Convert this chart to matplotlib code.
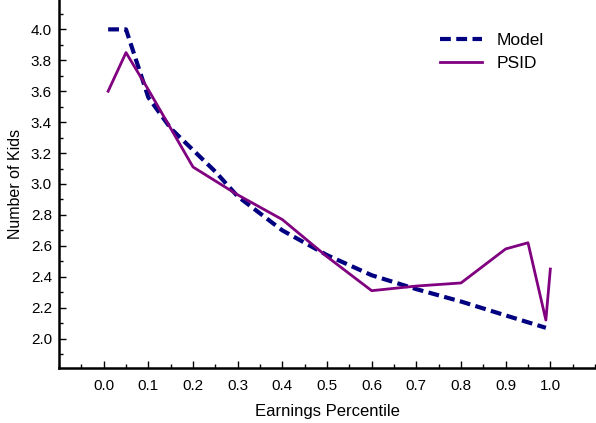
import numpy as np
import matplotlib.pyplot as plt
from matplotlib.ticker import MultipleLocator

# Data
model_x = [0.01, 0.05, 0.1, 0.15, 0.2, 0.25, 0.3, 0.4, 0.5, 0.6, 0.7, 0.8, 0.9, 0.99]
model_y = [4.0, 4.0, 3.56, 3.36, 3.22, 3.08, 2.92, 2.70, 2.54, 2.41, 2.32, 2.24, 2.15, 2.07]
psid_x = [0.01, 0.05, 0.1, 0.2, 0.3, 0.4, 0.5, 0.6, 0.7, 0.8, 0.9, 0.95, 0.99, 1.0]
psid_y = [3.60, 3.85, 3.61, 3.11, 2.93, 2.77, 2.53, 2.31, 2.34, 2.36, 2.58, 2.62, 2.12, 2.45]
xticks = np.arange(0, 1.01, 0.1)
yticks = np.arange(2.0, 4.01, 0.2)

plt.rcParams['font.family'] = ['Liberation Sans', 'DejaVu Sans']

fig = plt.figure(figsize=(5.96, 4.23), dpi=100)
ax = fig.add_axes([59 / 596, 55 / 423, 536 / 596, 368 / 423])

ax.plot(model_x, model_y, color='#000080', lw=3.0, ls=(0, (2.6, 1.3)), label='Model')
ax.plot(psid_x, psid_y, color='#800080', lw=2.0, label='PSID')

ax.set_xlim(-0.1, 1.1)
ax.set_ylim(1.81, 4.19)
ax.xaxis.set_minor_locator(MultipleLocator(0.05))
ax.yaxis.set_minor_locator(MultipleLocator(0.1))
ax.set_xticks(xticks)
ax.set_xticklabels([f'{v:.1f}' for v in xticks])
ax.set_yticks(yticks)
ax.set_yticklabels([f'{v:.1f}' for v in yticks])

for s in ['top', 'right']:
    ax.spines[s].set_visible(False)
for s in ['left', 'bottom']:
    ax.spines[s].set_linewidth(1.8)

ax.tick_params(axis='both', which='major', direction='in', length=5, width=1, labelsize=11)
ax.tick_params(axis='both', which='minor', direction='in', length=3, width=1)
ax.tick_params(axis='x', which='major', pad=8)
ax.tick_params(axis='y', which='major', pad=5)

ax.set_xlabel('Earnings Percentile', fontsize=12, labelpad=8)
ax.set_ylabel('Number of Kids', fontsize=11.5, labelpad=6)

fig.legend(loc='upper left', bbox_to_anchor=(440 / 596, 1 - 33 / 423), frameon=False,
           fontsize=12.5, handlelength=2.4, handletextpad=0.85, labelspacing=0.42,
           borderpad=0, borderaxespad=0)

fig.savefig('out.png', dpi=100)
